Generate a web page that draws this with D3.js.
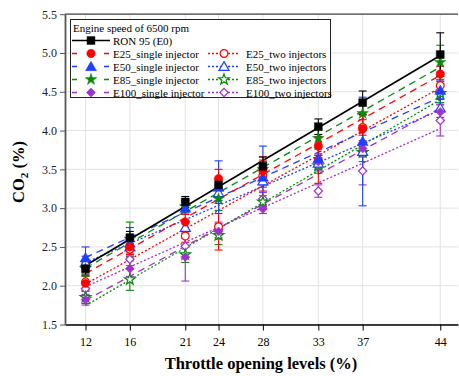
<!DOCTYPE html>
<html><head><meta charset="utf-8">
<script src="https://cdn.jsdelivr.net/npm/d3@7"></script>
<style>body{margin:0;background:#fff}svg{display:block}</style>
</head><body>
<svg id="c" width="459" height="376"></svg>
<script>
const throttle = [12, 16, 21, 24, 28, 33, 37, 44];
const yTicks = [1.5, 2.0, 2.5, 3.0, 3.5, 4.0, 4.5, 5.0, 5.5];
const ron95      = [2.22, 2.62, 3.08, 3.30, 3.54, 4.05, 4.36, 4.98];
const ron95Err   = [0.07, 0.08, 0.07, 0.07, 0.12, 0.10, 0.15, 0.28];
const e25Single  = [2.03, 2.50, 2.82, 3.38, 3.48, 3.80, 4.02, 4.73];
const e25SingleErr=[0.10, 0.10, 0.10, 0.12, 0.18, 0.12, 0.18, 0.10];
const e25Two     = [2.05, 2.47, 2.64, 2.76, 3.42, 3.62, 4.04, 4.58];
const e25TwoErr  = [0.08, 0.10, 0.08, 0.30, 0.20, 0.30, 0.10, 0.12];
const e50Single  = [2.36, 2.55, 3.00, 3.27, 3.40, 3.64, 3.86, 4.52];
const e50SingleErr=[0.14, 0.20, 0.08, 0.34, 0.40, 0.12, 0.15, 0.12];
const e50Two     = [2.30, 2.50, 2.75, 3.20, 3.35, 3.58, 3.73, 4.29];
const e50TwoErr  = [0.08, 0.10, 0.08, 0.10, 0.08, 0.10, 0.70, 0.12];
const e85Single  = [2.22, 2.60, 3.02, 3.12, 3.50, 3.90, 4.22, 4.88];
const e85SingleErr=[0.10, 0.22, 0.08, 0.15, 0.10, 0.12, 0.15, 0.22];
const e85Two     = [1.85, 2.08, 2.40, 2.65, 3.08, 3.55, 3.72, 4.48];
const e85TwoErr  = [0.08, 0.14, 0.10, 0.12, 0.08, 0.10, 0.12, 0.12];
const e100Single = [1.82, 2.22, 2.37, 2.70, 2.99, 3.60, 3.77, 4.24];
const e100SingleErr=[0.07, 0.10, 0.31, 0.10, 0.06, 0.10, 0.10, 0.10];
const e100Two    = [1.96, 2.34, 2.51, 2.72, 3.12, 3.22, 3.48, 4.13];
const e100TwoErr = [0.08, 0.08, 0.10, 0.10, 0.08, 0.08, 0.18, 0.20];

const series = [
  {name:"RON 95 (E0)", v:ron95, e:ron95Err, color:"#000000", sym:"square", open:false, dash:null, lw:1.6},
  {name:"E25_single injector", v:e25Single, e:e25SingleErr, color:"#ff0000", sym:"circle", open:false, dash:"7,5", lw:1.3},
  {name:"E50_single injector", v:e50Single, e:e50SingleErr, color:"#1f3fff", sym:"triangle", open:false, dash:"7,5", lw:1.3},
  {name:"E85_single injector", v:e85Single, e:e85SingleErr, color:"#0a8a0a", sym:"star", open:false, dash:"7,5", lw:1.3},
  {name:"E100_single injector", v:e100Single, e:e100SingleErr, color:"#a030d0", sym:"diamond", open:false, dash:"7,5", lw:1.3},
  {name:"E25_two injectors", v:e25Two, e:e25TwoErr, color:"#ff0000", sym:"circle", open:true, dash:"2,2", lw:1.3},
  {name:"E50_two injectors", v:e50Two, e:e50TwoErr, color:"#1f3fff", sym:"triangle", open:true, dash:"2,2", lw:1.3},
  {name:"E85_two injectors", v:e85Two, e:e85TwoErr, color:"#0a8a0a", sym:"star", open:true, dash:"2,2", lw:1.3},
  {name:"E100_two injectors", v:e100Two, e:e100TwoErr, color:"#a030d0", sym:"diamond", open:true, dash:"2,2", lw:1.3}
];

const svg = d3.select("#c");
const L = 65, R = 458, T = 14.2, B = 324.5;
const x = d3.scaleLinear().domain([10.15, 45.6]).range([L, R]);
const y = d3.scaleLinear().domain([1.5, 5.5]).range([B, T]);
const serif = "'Liberation Serif','Times New Roman',serif";

// grid
svg.append("g").selectAll("line.gy").data(yTicks).join("line")
  .attr("x1", L).attr("x2", R).attr("y1", d=>y(d)).attr("y2", d=>y(d))
  .attr("stroke", "#e2e2e2").attr("stroke-width", 1);
svg.append("g").selectAll("line.gx").data(throttle).join("line")
  .attr("x1", d=>x(d)).attr("x2", d=>x(d)).attr("y1", T).attr("y2", B)
  .attr("stroke", "#e2e2e2").attr("stroke-width", 1);

// top frame
svg.append("line").attr("x1", L).attr("x2", R).attr("y1", T).attr("y2", T)
  .attr("stroke", "#444").attr("stroke-width", 1.2);

// axes
const xAxis = d3.axisBottom(x).tickValues(throttle).tickSize(6).tickSizeOuter(0).tickFormat(d3.format("d"));
const gx = svg.append("g").attr("transform", `translate(0,${B})`).call(xAxis);
gx.select(".domain").attr("stroke", "#000").attr("stroke-width", 1.3);
gx.selectAll(".tick line").attr("stroke", "#000");
gx.selectAll("text").attr("font-family", serif).attr("font-size", 12).attr("fill", "#000").attr("dy", "1.05em");

const yAxis = d3.axisLeft(y).tickValues(yTicks).tickSize(5).tickSizeOuter(0).tickFormat(d3.format(".1f"));
const gy = svg.append("g").attr("transform", `translate(${L},0)`).call(yAxis);
gy.select(".domain").attr("stroke", "#555").attr("stroke-width", 1.8);
gy.selectAll(".tick line").attr("stroke", "#555");
gy.selectAll("text").attr("font-family", serif).attr("font-size", 12).attr("fill", "#222");

// axis titles
svg.append("text").attr("x", 261).attr("y", 369).attr("text-anchor", "middle")
  .attr("font-family", serif).attr("font-weight", "bold").attr("font-size", 16.5)
  .text("Throttle opening levels (%)");
const yt = svg.append("text").attr("transform", "translate(24,172) rotate(-90)").attr("text-anchor", "middle")
  .attr("font-family", serif).attr("font-weight", "bold").attr("font-size", 16.5);
yt.append("tspan").text("CO");
yt.append("tspan").attr("font-size", 11).attr("dy", 4).text("2");
yt.append("tspan").attr("dy", -4).text(" (%)");

// symbols
function symPath(s, open) {
  const m = {square: [d3.symbolSquare, 62], circle: [d3.symbolCircle, 56], triangle: [d3.symbolTriangle, 52],
             star: [d3.symbolStar, 42], diamond: [d3.symbolSquare, 40]};
  const [t, a] = m[s];
  return d3.symbol(t, open ? a * 0.85 : a)();
}
function drawMarker(g, s, cx, cy) {
  g.append("path").attr("d", symPath(s.sym, s.open))
    .attr("transform", `translate(${cx},${cy})` + (s.sym === "diamond" ? " rotate(45)" : "") + (s.sym === "triangle" ? " translate(0,1)" : ""))
    .attr("fill", s.open ? "#fff" : s.color).attr("stroke", s.color).attr("stroke-width", s.open ? 1.2 : 0.5);
}

// fit lines (least squares through each series' values)
function fit(vs) {
  const mx = d3.mean(throttle), my = d3.mean(vs);
  let sxy = 0, sxx = 0;
  throttle.forEach((t, i) => { sxy += (t - mx) * (vs[i] - my); sxx += (t - mx) ** 2; });
  const b = sxy / sxx; return t => my + b * (t - mx);
}
const order = [8, 7, 6, 5, 4, 3, 2, 1, 0];
const lg = svg.append("g");
order.forEach(i => {
  const s = series[i], f = fit(s.v);
  const ends = [throttle[0], throttle[throttle.length - 1]];
  lg.append("path").attr("d", d3.line().x(t => x(t)).y(t => y(f(t)))(ends))
    .attr("fill", "none").attr("stroke", s.color).attr("stroke-width", s.lw)
    .attr("stroke-dasharray", s.dash);
});
// error bars
const eg = svg.append("g");
order.forEach(i => {
  const s = series[i];
  throttle.forEach((t, j) => {
    const cx = x(t), y1 = y(s.v[j] + s.e[j]), y2 = y(s.v[j] - s.e[j]);
    eg.append("line").attr("x1", cx).attr("x2", cx).attr("y1", y1).attr("y2", y2).attr("stroke", s.color).attr("stroke-width", 1.1);
    [y1, y2].forEach(yy => eg.append("line").attr("x1", cx - 4).attr("x2", cx + 4).attr("y1", yy).attr("y2", yy).attr("stroke", s.color).attr("stroke-width", 1.1));
  });
});
// markers
const mg = svg.append("g");
order.forEach(i => {
  const s = series[i];
  throttle.forEach((t, j) => drawMarker(mg, s, x(t), y(s.v[j])));
});

// legend
const leg = svg.append("g");
leg.append("rect").attr("x", 70.5).attr("y", 19.5).attr("width", 260).attr("height", 78)
  .attr("fill", "#fff").attr("stroke", "#222").attr("stroke-width", 1);
leg.append("text").attr("x", 73).attr("y", 32).attr("font-family", serif).attr("font-size", 11).text("Engine speed of 6500 rpm");
const rowY = [44, 57, 70, 83, 96].map(v => v - 3.5);
function legItem(s, x0, x1, cy, tx) {
  leg.append("line").attr("x1", x0).attr("x2", x1).attr("y1", cy).attr("y2", cy)
    .attr("stroke", s.color).attr("stroke-width", s.lw).attr("stroke-dasharray", s.dash ? (s.open ? "2,2" : "5,11") : null);
  drawMarker(leg, s, (x0 + x1) / 2, cy);
  leg.append("text").attr("x", tx).attr("y", cy + 4).attr("font-family", serif).attr("font-size", 11).text(s.name);
}
legItem(series[0], 72, 110, rowY[0], 113);
for (let k = 1; k <= 4; k++) {
  legItem(series[k], 72, 110, rowY[k], 113);
  legItem(series[k + 4], 208, 240, rowY[k], 246);
}
</script>
</body></html>
